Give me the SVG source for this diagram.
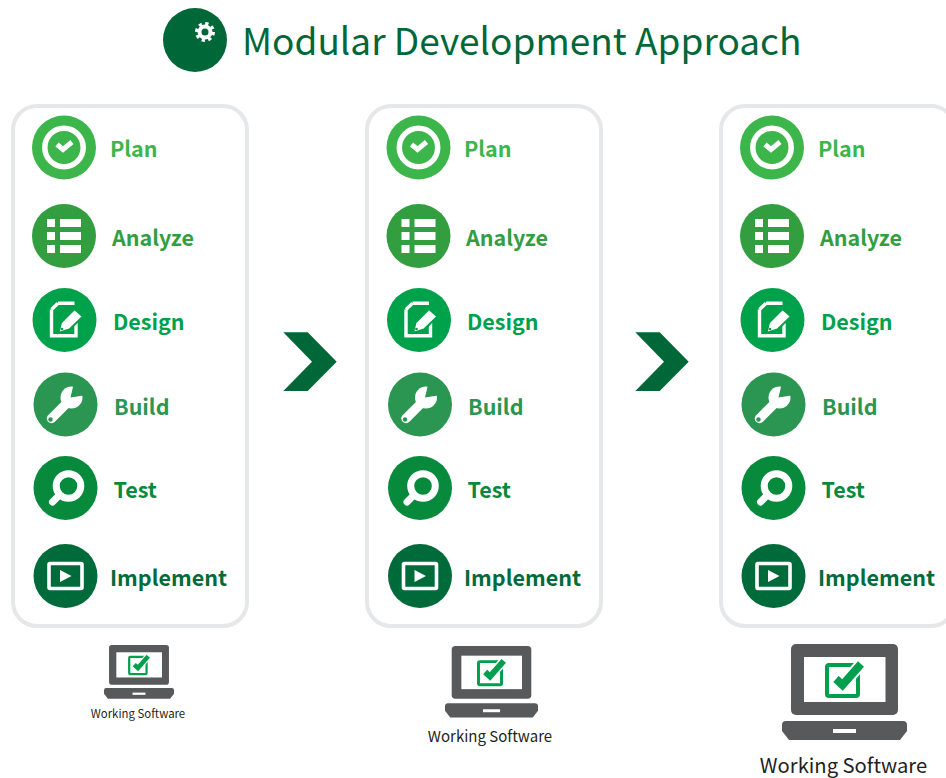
<svg xmlns="http://www.w3.org/2000/svg" width="946" height="778" viewBox="0 0 946 778">
<style>
text{font-family:"Noto Sans CJK SC","Noto Sans",sans-serif}
.lb{font-size:21.5px;font-weight:700}
.panel{fill:#fff;stroke:#e6e7e8;stroke-width:4}
.ws{fill:#231f20;text-anchor:middle}
.c1{fill:#3cb64b}.c2{fill:#339e3f}.c3{fill:#00a14b}.c4{fill:#2a9652}.c5{fill:#078a3c}.c6{fill:#006b3a}
</style>
<defs>
<g id="i1"><circle r="19.2" fill="none" stroke="#fff" stroke-width="5.5"/><path d="M-7-3-1 2 8-5.500" fill="none" stroke="#fff" stroke-width="5"/></g>
<g id="i2" fill="#fff"><rect x="-17" y="-17" width="8" height="8"/><rect x="-17" y="-4" width="8" height="8"/><rect x="-17" y="9" width="8" height="8"/><rect x="-4" y="-17" width="21" height="8"/><rect x="-4" y="-4" width="21" height="8"/><rect x="-4" y="9" width="21" height="8"/></g>
<g id="i3"><path d="M-6.500-16.800H10M-13-10.500-6.500-16.800M-13-10.500V15.800H11.500V1" fill="none" stroke="#fff" stroke-width="3.400"/><path d="M-6 13-3.500 2.500 10-11 18.500-3.500 5 9.500Z" fill="#fff" stroke="#00a14b" stroke-width="2"/><circle cx="-2.500" cy="9" r="1.300" fill="#00a14b"/></g>
<g id="i4"><path d="M-14 14 1-1" stroke="#fff" stroke-width="9.500" stroke-linecap="round"/><circle cx="6" cy="-7" r="11" fill="#fff"/><path d="M5-7 8.500-22 21-9.500Z" fill="#2a9652"/><circle cx="-15" cy="15" r="2.200" fill="#2a9652"/></g>
<g id="i5"><circle cx="3" cy="-2" r="12.300" fill="none" stroke="#fff" stroke-width="7"/><path d="M-13 14-6 7" stroke="#fff" stroke-width="7" stroke-linecap="round"/></g>
<g id="i6"><rect x="-16.500" y="-12.500" width="33" height="25" fill="none" stroke="#fff" stroke-width="3.600" rx="1"/><path d="M-5.500-6 6 0-5.500 6Z" fill="#fff"/></g>
<g id="laptop"><rect x="9" width="107" height="71" rx="5" fill="#58595b"/><rect x="22" y="13" width="81.500" height="45" fill="#fff"/><path d="M4 77H121Q125 77 125 81V87L118 96H7L0 87V81Q0 77 4 77Z" fill="#58595b"/><rect x="51" y="85" width="23" height="4" fill="#fff"/><rect x="45" y="21" width="31" height="31" rx="2" fill="none" stroke="#009f4d" stroke-width="4"/><path d="M54 35 60.500 41 79 20" fill="none" stroke="#fff" stroke-width="12"/><path d="M54 35 60.500 41 79 20" fill="none" stroke="#009f4d" stroke-width="8"/></g>
</defs>
<rect width="946" height="778" fill="#fff"/>
<g id="title">
<circle cx="195" cy="40" r="32" fill="#006838"/>
<g fill="none" stroke="#fff"><circle cx="205" cy="32" r="5.500" stroke-width="4"/><circle cx="205" cy="32" r="8.500" stroke-width="3" stroke-dasharray="3.300 3.370"/></g>
<text x="242" y="55" font-size="37" fill="#006838">Modular Development Approach</text>
</g>
<g id="connectors" fill="#006838">
<path d="M283.300 332.300H307.700L336.700 361.700 307.700 391H283.300L312 361.700Z"/>
<path d="M635.300 332.300H659.700L688.700 361.700 659.700 391H635.300L664 361.700Z"/>
</g>
<rect id="panel1" class="panel" x="13" y="106" width="234" height="520" rx="24"/>
<rect id="panel2" class="panel" x="367" y="106" width="234" height="520" rx="24"/>
<rect id="panel3" class="panel" x="721" y="106" width="234" height="520" rx="24"/>

<g id="c1-plan"><circle class="c1" cx="64" cy="147.500" r="32"/><use href="#i1" x="64" y="147.500"/><text class="lb c1" x="110" y="157">Plan</text></g>
<g id="c1-analyze"><circle class="c2" cx="64" cy="236" r="32"/><use href="#i2" x="64" y="236"/><text class="lb c2" x="112" y="246">Analyze</text></g>
<g id="c1-design"><circle class="c3" cx="64.500" cy="320" r="32"/><use href="#i3" x="64.500" y="320"/><text class="lb c3" x="113" y="330">Design</text></g>
<g id="c1-build"><circle class="c4" cx="65.500" cy="404.500" r="32"/><use href="#i4" x="65.500" y="404.500"/><text class="lb c4" x="114" y="415">Build</text></g>
<g id="c1-test"><circle class="c5" cx="65.500" cy="488" r="32"/><use href="#i5" x="65.500" y="488"/><text class="lb c5" x="113.500" y="498">Test</text></g>
<g id="c1-implement"><circle class="c6" cx="65.500" cy="576" r="32"/><use href="#i6" x="65.500" y="576"/><text class="lb c6" x="110" y="586">Implement</text></g>

<g id="c2-plan"><circle class="c1" cx="418.500" cy="147.500" r="32"/><use href="#i1" x="418.500" y="147.500"/><text class="lb c1" x="464" y="157">Plan</text></g>
<g id="c2-analyze"><circle class="c2" cx="418.500" cy="236" r="32"/><use href="#i2" x="418.500" y="236"/><text class="lb c2" x="466" y="246">Analyze</text></g>
<g id="c2-design"><circle class="c3" cx="419" cy="320" r="32"/><use href="#i3" x="419" y="320"/><text class="lb c3" x="467" y="330">Design</text></g>
<g id="c2-build"><circle class="c4" cx="420" cy="404.500" r="32"/><use href="#i4" x="420" y="404.500"/><text class="lb c4" x="468" y="415">Build</text></g>
<g id="c2-test"><circle class="c5" cx="420" cy="488" r="32"/><use href="#i5" x="420" y="488"/><text class="lb c5" x="467.500" y="498">Test</text></g>
<g id="c2-implement"><circle class="c6" cx="420" cy="576" r="32"/><use href="#i6" x="420" y="576"/><text class="lb c6" x="464" y="586">Implement</text></g>

<g id="c3-plan"><circle class="c1" cx="772" cy="147.500" r="32"/><use href="#i1" x="772" y="147.500"/><text class="lb c1" x="818" y="157">Plan</text></g>
<g id="c3-analyze"><circle class="c2" cx="772" cy="236" r="32"/><use href="#i2" x="772" y="236"/><text class="lb c2" x="820" y="246">Analyze</text></g>
<g id="c3-design"><circle class="c3" cx="772.500" cy="320" r="32"/><use href="#i3" x="772.500" y="320"/><text class="lb c3" x="821" y="330">Design</text></g>
<g id="c3-build"><circle class="c4" cx="773.500" cy="404.500" r="32"/><use href="#i4" x="773.500" y="404.500"/><text class="lb c4" x="822" y="415">Build</text></g>
<g id="c3-test"><circle class="c5" cx="773.500" cy="488" r="32"/><use href="#i5" x="773.500" y="488"/><text class="lb c5" x="821.500" y="498">Test</text></g>
<g id="c3-implement"><circle class="c6" cx="773.500" cy="576" r="32"/><use href="#i6" x="773.500" y="576"/><text class="lb c6" x="818" y="586">Implement</text></g>

<g id="software1"><use href="#laptop" transform="translate(104 645) scale(.56)"/><text class="ws" x="138" y="718" font-size="11.400">Working Software</text></g>
<g id="software2"><use href="#laptop" transform="translate(445 646) scale(.744)"/><text class="ws" x="490" y="742" font-size="15">Working Software</text></g>
<g id="software3"><use href="#laptop" transform="translate(782 644)"/><text class="ws" x="843.500" y="773" font-size="20.200">Working Software</text></g>
</svg>
